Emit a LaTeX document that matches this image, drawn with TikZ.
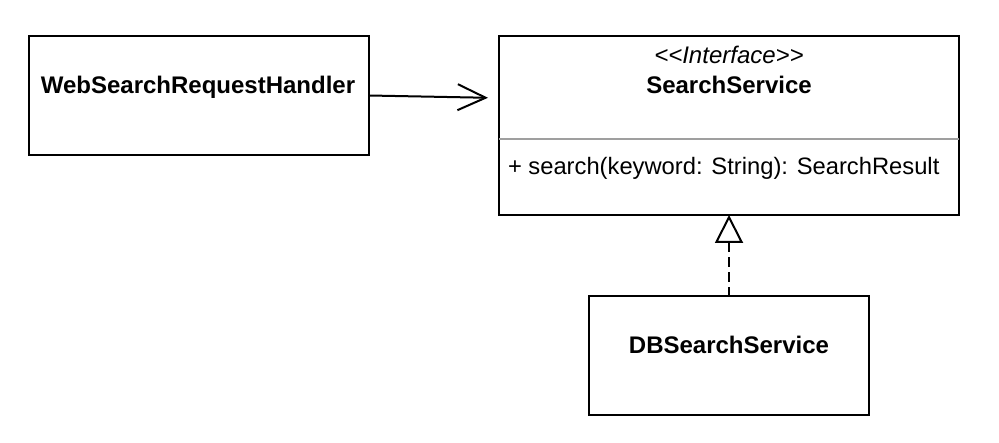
\documentclass[tikz,border=0pt]{standalone}
\usepackage{fontspec}
\setmainfont{Liberation Sans}
\usetikzlibrary{arrows.meta}

\begin{document}
\begin{tikzpicture}[x=1pt,y=-1pt,line width=2pt,
  classbox/.style={draw,rectangle,inner sep=0pt,outer sep=0pt},
  classtext/.style={anchor=base,inner sep=0pt,font=\fontsize{24}{28}\selectfont}]
\useasboundingbox (0,0) rectangle (999,443);
\node[classbox,minimum width=340pt,minimum height=119pt] (web) at (199,95.5) {};
\node[classbox,minimum width=460pt,minimum height=179pt] (srv) at (729,125.5) {};
\node[classbox,minimum width=280pt,minimum height=119pt] (db) at (729,355.5) {};
\node[classtext,font=\fontsize{24}{28}\selectfont\bfseries] (webname) at (198,93.5) {WebSearchRequestHandler};
\node[classtext,font=\fontsize{24}{28}\selectfont\itshape] (srvstereo) at (729,64) {<{}<Interface>{}>};
\node[classtext,font=\fontsize{24}{28}\selectfont\bfseries] (srvname) at (729,93.5) {SearchService};
\node[classtext,anchor=base west,font=\fontsize{23.75}{28}\selectfont] (srvop) at (507,175) {+ search(keyword: String): SearchResult};
\node[classtext,font=\fontsize{24}{28}\selectfont\bfseries] (dbname) at (729,353.5) {DBSearchService};
\draw[gray!75,line width=1.5pt] (srv.west |- 0,139) -- (srv.east |- 0,139);
\draw[-{Straight Barb[length=28pt,width=26pt]},shorten >=11pt] (web.east) -- (srv.west |- 0,98);
\draw[{Triangle[open,length=28pt,width=28pt]}-,dash pattern=on 10pt off 5pt] (srv.south) -- (db.north);
\end{tikzpicture}
\end{document}
